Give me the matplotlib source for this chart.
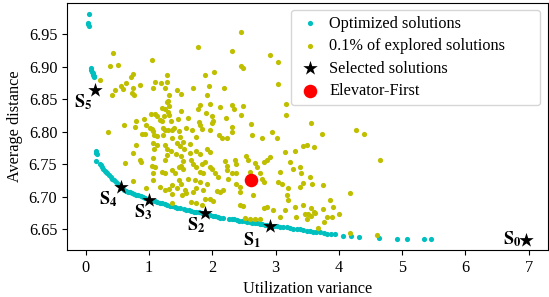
import matplotlib
matplotlib.use("Agg")
import matplotlib.pyplot as plt

plt.rcParams["font.family"] = ["Liberation Serif", "DejaVu Serif"]
plt.rcParams["mathtext.fontset"] = "stix"

# Pareto front (optimized solutions)
opt_x = [0.05, 0.04, 0.04, 0.05, 0.08, 0.09, 0.10, 0.11, 0.12, 0.13, 0.13,
         0.16, 0.17, 0.18, 0.17, 0.22, 0.24, 0.26, 0.28, 0.30, 0.32, 0.34, 0.37,
         0.40, 0.42, 0.45, 0.48, 0.51, 0.58, 0.61, 0.64, 0.67, 0.70, 0.73, 0.77,
         0.80, 0.83, 0.87, 0.90, 0.94, 1.05, 1.09, 1.13, 1.17, 1.21, 1.25, 1.29,
         1.33, 1.37, 1.41, 1.45, 1.49, 1.55, 1.59, 1.63, 1.67, 1.71, 1.75, 1.79,
         1.83, 1.93, 1.97, 2.01, 2.05, 2.09, 2.13, 2.17, 2.27, 2.31, 2.35, 2.39,
         2.43, 2.47, 2.51, 2.55, 2.59, 2.63, 2.67, 2.71, 2.75, 2.79, 2.83, 2.87,
         2.98, 3.02, 3.07, 3.12, 3.18, 3.23, 3.28, 3.34, 3.39, 3.44, 3.49, 3.54,
         3.59, 3.64, 3.70, 3.76, 3.81, 3.87, 3.94, 4.06, 4.19, 4.32, 4.63, 4.92,
         5.07, 5.35, 5.46]
opt_y = [6.981, 6.968, 6.965, 6.962, 6.898, 6.895, 6.892, 6.890, 6.887, 6.885, 6.884,
         6.770, 6.767, 6.765, 6.755, 6.751, 6.749, 6.746, 6.743, 6.740, 6.738, 6.736, 6.733,
         6.730, 6.727, 6.725, 6.722, 6.719, 6.713, 6.711, 6.709, 6.708, 6.707, 6.705, 6.704,
         6.703, 6.702, 6.701, 6.700, 6.698, 6.694, 6.693, 6.692, 6.691, 6.690, 6.689, 6.687,
         6.686, 6.685, 6.684, 6.683, 6.682, 6.681, 6.680, 6.679, 6.678, 6.677, 6.676, 6.676,
         6.675, 6.673, 6.672, 6.671, 6.670, 6.669, 6.668, 6.668, 6.666, 6.665, 6.665, 6.664,
         6.663, 6.663, 6.662, 6.661, 6.661, 6.660, 6.659, 6.659, 6.658, 6.658, 6.657, 6.657,
         6.655, 6.655, 6.654, 6.653, 6.653, 6.652, 6.651, 6.651, 6.650, 6.649, 6.648, 6.647,
         6.646, 6.646, 6.645, 6.644, 6.643, 6.643, 6.642, 6.640, 6.639, 6.638, 6.636, 6.635,
         6.635, 6.635, 6.635]

# sample of explored solutions
exp_x = [2.46, 1.78, 2.31, 0.43, 2.91, 1.05, 3.04, 0.38, 0.51, 2.46, 2.48, 2.03, 1.88,
         0.75, 0.71, 1.28, 0.22, 1.09, 1.19, 1.29, 0.64, 0.56, 0.59, 0.74, 0.85, 1.06,
         1.26, 1.95, 2.18, 3.04, 0.47, 0.41, 0.73, 0.76, 1.45, 1.51, 1.69, 1.31, 1.92,
         1.30, 1.29, 1.81, 1.77, 1.96, 2.12, 2.31, 2.35, 2.48, 3.17, 1.21, 1.25, 1.31,
         1.50, 1.90, 1.03, 1.09, 1.12, 1.24, 1.30, 1.32, 1.99, 2.45, 3.16, 0.92, 0.80,
         1.17, 1.20, 1.34, 1.46, 1.62, 1.79, 2.01, 1.99, 2.21, 2.61, 0.60, 0.78, 0.96,
         1.01, 1.04, 1.06, 1.22, 1.25, 1.30, 1.36, 1.39, 1.47, 1.58, 1.68, 1.80, 1.84,
         1.97, 2.31, 2.31, 0.35, 0.89, 0.94, 1.08, 1.12, 1.22, 1.37, 1.49, 1.74, 2.10,
         2.15, 2.23, 2.63, 2.78, 2.94, 3.02, 3.73, 3.56, 4.27, 4.40, 0.75, 0.62, 0.85,
         0.87, 0.80, 1.06, 1.12, 1.25, 1.28, 1.44, 1.49, 1.65, 1.34, 1.28, 1.42, 1.51,
         1.54, 1.65, 1.75, 1.80, 1.91, 1.96, 1.06, 1.25, 1.05, 1.09, 1.21, 1.36, 1.41,
         1.51, 1.54, 1.67, 1.70, 1.75, 1.83, 1.88, 1.80, 1.86, 1.96, 1.99, 2.04, 2.09,
         2.20, 2.23, 2.36, 2.38, 2.23, 2.31, 2.38, 2.54, 2.57, 2.67, 2.70, 2.81, 2.86,
         2.91, 2.59, 2.75, 3.07, 3.23, 3.28, 3.39, 3.15, 3.44, 3.49, 3.60, 3.54, 3.30,
         4.65, 3.40, 1.53, 1.56, 1.48, 1.48, 1.26, 1.08, 1.06, 0.75, 1.06, 1.62, 1.72,
         1.80, 1.91, 1.17, 1.25, 1.36, 1.44, 1.51, 1.57, 1.59, 1.70, 1.75, 1.86, 2.07,
         2.12, 2.17, 2.25, 2.38, 2.44, 2.78, 2.81, 2.65, 2.44, 1.96, 2.01, 1.67, 1.75,
         1.83, 2.44, 2.49, 2.81, 2.86, 2.96, 3.04, 3.10, 3.44, 3.57, 3.20, 3.18, 3.20,
         3.39, 3.75, 3.86, 3.91, 3.60, 3.15, 3.33, 3.49, 2.52, 2.59, 3.07, 3.81, 4.17,
         3.31, 3.44, 3.56, 3.75, 3.47, 3.52, 3.56, 3.63, 4.00, 3.89, 3.76, 3.67, 4.18,
         4.60, 0.95, 1.36, 1.31, 1.52, 1.37, 2.67, 2.75, 1.88]
exp_y = [6.954, 6.930, 6.924, 6.921, 6.918, 6.910, 6.907, 6.901, 6.903, 6.901, 6.898, 6.892, 6.887,
         6.889, 6.884, 6.888, 6.879, 6.876, 6.875, 6.876, 6.875, 6.870, 6.865, 6.868, 6.872, 6.867,
         6.868, 6.870, 6.868, 6.873, 6.864, 6.857, 6.859, 6.856, 6.864, 6.858, 6.867, 6.857, 6.856,
         6.848, 6.845, 6.841, 6.835, 6.843, 6.838, 6.841, 6.835, 6.839, 6.843, 6.837, 6.835, 6.839,
         6.832, 6.829, 6.828, 6.828, 6.824, 6.824, 6.830, 6.825, 6.824, 6.825, 6.826, 6.819, 6.816,
         6.818, 6.816, 6.817, 6.820, 6.821, 6.815, 6.816, 6.813, 6.821, 6.812, 6.810, 6.807, 6.811,
         6.806, 6.804, 6.801, 6.806, 6.802, 6.802, 6.803, 6.806, 6.801, 6.805, 6.803, 6.811, 6.804,
         6.803, 6.808, 6.799, 6.800, 6.797, 6.797, 6.795, 6.793, 6.795, 6.791, 6.792, 6.792, 6.795,
         6.791, 6.790, 6.795, 6.790, 6.799, 6.790, 6.796, 6.813, 6.803, 6.796, 6.768, 6.752, 6.757,
         6.753, 6.779, 6.782, 6.779, 6.779, 6.774, 6.782, 6.778, 6.781, 6.770, 6.764, 6.766, 6.762,
         6.755, 6.767, 6.770, 6.766, 6.773, 6.769, 6.760, 6.756, 6.748, 6.746, 6.738, 6.741, 6.736,
         6.748, 6.742, 6.756, 6.751, 6.746, 6.751, 6.754, 6.738, 6.736, 6.746, 6.742, 6.736, 6.730,
         6.755, 6.748, 6.757, 6.751, 6.741, 6.737, 6.736, 6.762, 6.757, 6.752, 6.746, 6.754, 6.756,
         6.761, 6.738, 6.736, 6.738, 6.754, 6.743, 6.746, 6.769, 6.778, 6.779, 6.777, 6.730, 6.770,
         6.757, 6.736, 6.784, 6.774, 6.746, 6.725, 6.736, 6.773, 6.736, 6.724, 6.725, 6.728, 6.725,
         6.723, 6.720, 6.715, 6.710, 6.718, 6.713, 6.720, 6.710, 6.705, 6.707, 6.713, 6.710, 6.709,
         6.707, 6.710, 6.728, 6.720, 6.715, 6.728, 6.723, 6.702, 6.707, 6.697, 6.693, 6.692, 6.690,
         6.687, 6.687, 6.685, 6.683, 6.684, 6.679, 6.723, 6.720, 6.721, 6.720, 6.713, 6.702, 6.695,
         6.715, 6.718, 6.695, 6.684, 6.677, 6.679, 6.669, 6.666, 6.668, 6.666, 6.669, 6.669, 6.705,
         6.684, 6.688, 6.682, 6.681, 6.674, 6.673, 6.670, 6.675, 6.674, 6.669, 6.661, 6.652, 6.644,
         6.641, 6.713, 6.690, 6.712, 6.702, 6.704, 6.666, 6.666, 6.697]

sel_names = ["0", "1", "2", "3", "4", "5"]
sel_x = [6.96, 2.92, 1.88, 1.00, 0.55, 0.14]
sel_y = [6.634, 6.655, 6.675, 6.695, 6.715, 6.864]

ef_x = [2.61]
ef_y = [6.725]

# label offsets (points) for S_i
lbl_off = [(-10, 0), (-13, -10), (-6, -9), (-4, -9), (-9, -9), (-8, -9)]

fig = plt.figure(figsize=(5.49, 2.97), dpi=100)
ax = fig.add_axes([67 / 549, 47 / 297, 481 / 549, 247 / 297])

ax.scatter(opt_x, opt_y, s=14, c="c", linewidths=0, label="Optimized solutions", zorder=2)
ax.scatter(exp_x, exp_y, s=14, c="y", linewidths=0, label="0.1% of explored solutions", zorder=2)
ax.scatter(sel_x, sel_y, s=120, c="k", marker="*", linewidths=0, label="Selected solutions", zorder=3)
ax.scatter(ef_x, ef_y, s=95, c="r", linewidths=0, label="Elevator-First", zorder=4)

for n, x, y, off in zip(sel_names, sel_x, sel_y, lbl_off):
    ax.annotate(r"$\mathbf{S}_{\mathbf{%s}}$" % n, (x, y), xytext=off, textcoords="offset points",
                ha="center", va="center", fontsize=13)

ax.set_xlim(-0.296, 7.306)
ax.set_ylim(6.618, 6.998)
ax.set_xticks(range(8))
ax.set_yticks([6.65, 6.70, 6.75, 6.80, 6.85, 6.90, 6.95])
ax.set_yticklabels(["%.2f" % v for v in [6.65, 6.70, 6.75, 6.80, 6.85, 6.90, 6.95]])
ax.tick_params(labelsize=11.7)
ax.set_xlabel("Utilization variance", fontsize=11.7)
ax.set_ylabel("Average distance", fontsize=11.7)

# legend box stretched like the original (extra room on the right)
ax.legend(loc="upper left", bbox_to_anchor=(0.466, 0.5, 0.517, 0.472), mode="expand",
          borderaxespad=0, fontsize=11.7, handlelength=1.6, handletextpad=0.4,
          borderpad=0.35, labelspacing=0.4)

fig.savefig("out.png", dpi=100)
